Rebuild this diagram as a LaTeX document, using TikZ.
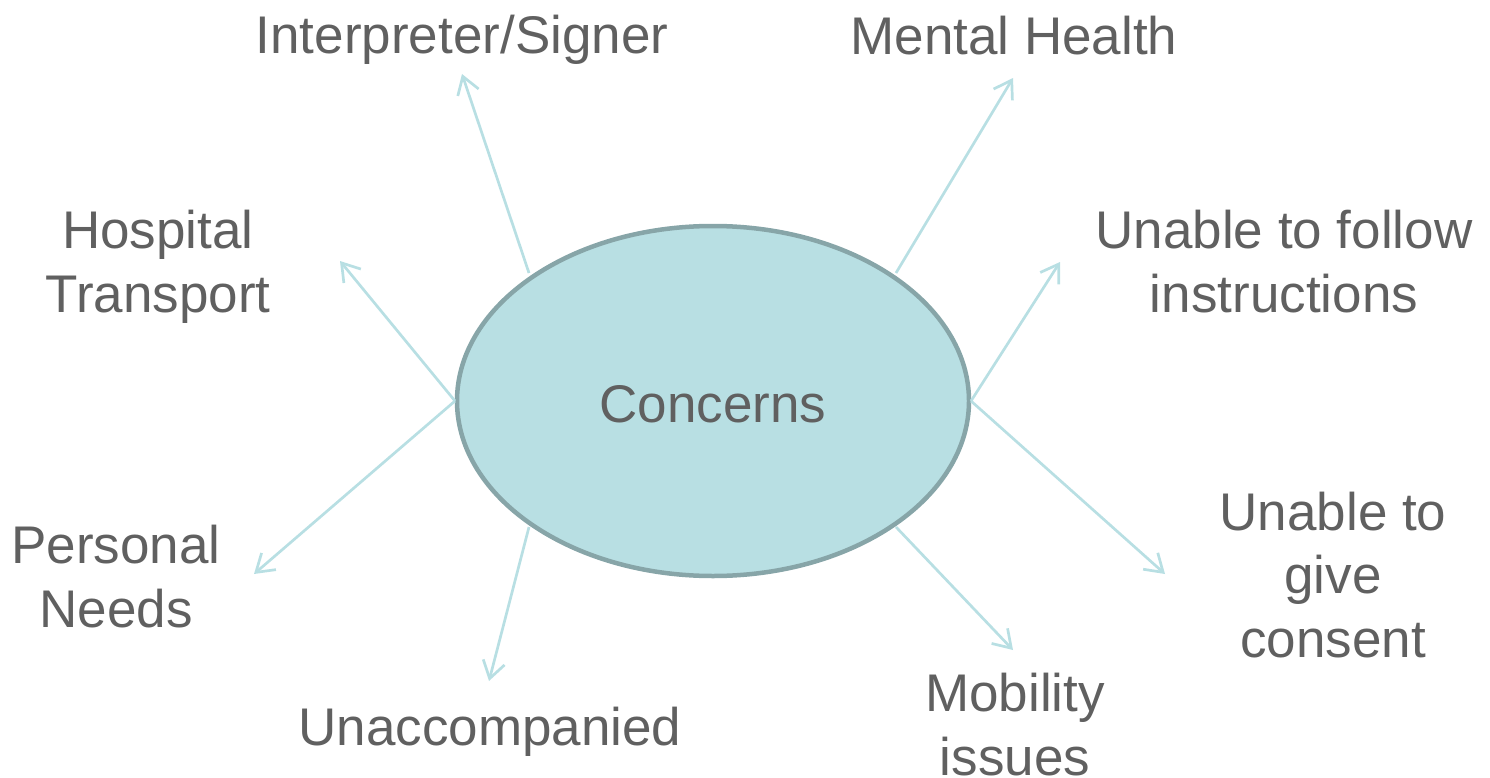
\documentclass[tikz,border=0pt]{standalone}
\usepackage{fontspec}
\setmainfont{Liberation Sans}
\usetikzlibrary{arrows.meta,shapes.geometric}
\definecolor{efill}{HTML}{B8DFE3}
\definecolor{eline}{HTML}{87A5A8}
\definecolor{arr}{HTML}{B8DFE3}
\definecolor{txt}{HTML}{606060}
\tikzset{
  lbl/.style={text=txt, align=center, inner sep=0pt, font=\fontsize{53}{63.5}\selectfont},
  conn/.style={draw=arr, line width=2.7pt, -{Straight Barb[length=17pt,width=22pt,line width=2.7pt]}},
  hub/.style={ellipse, draw=eline, line width=4.5pt, fill=efill, minimum width=512pt, minimum height=350pt, inner sep=0pt}
}
\begin{document}
\begin{tikzpicture}[x=1pt,y=-1pt]
\useasboundingbox (0,0) rectangle (1490,778);
\node[hub] (c) at (713,401) {};
\node[lbl, anchor=base] (cc) at (713,422) {Concerns};
% labels (anchor=base is the baseline of the last line)
\node[lbl, anchor=base] (int) at (462,54) {Interpreter/Signer};
\node[lbl, anchor=base] (men) at (1014,55) {Mental Health};
\node[lbl, anchor=base] (hos) at (158,312) {Hospital\\Transport};
\node[lbl, anchor=base] (unf) at (1284,312) {Unable to follow\\instructions};
\node[lbl, anchor=base] (per) at (116,627) {Personal\\Needs};
\node[lbl, anchor=base] (ung) at (1333,657) {Unable to\\give\\consent};
\node[lbl, anchor=base] (una) at (490,745) {Unaccompanied};
\node[lbl, anchor=base] (mob) at (1015,775) {Mobility\\issues};
% connector ends
\coordinate (s1) at (529,273); \coordinate (e1) at (462,74);
\coordinate (s2) at (896,273); \coordinate (e2) at (1013,78);
\coordinate (s3) at (455,401); \coordinate (e3) at (340,261);
\coordinate (s4) at (971,401); \coordinate (e4) at (1060,262);
\coordinate (e5) at (254,574);
\coordinate (e6) at (1165,574);
\coordinate (s7) at (529,527); \coordinate (e7) at (489,681);
\coordinate (s8) at (896,527); \coordinate (e8) at (1013,650);
\draw[conn] (s1) -- (e1);
\draw[conn] (s2) -- (e2);
\draw[conn] (s3) -- (e3);
\draw[conn] (s4) -- (e4);
\draw[conn] (s3) -- (e5);
\draw[conn] (s4) -- (e6);
\draw[conn] (s7) -- (e7);
\draw[conn] (s8) -- (e8);
\end{tikzpicture}
\end{document}
